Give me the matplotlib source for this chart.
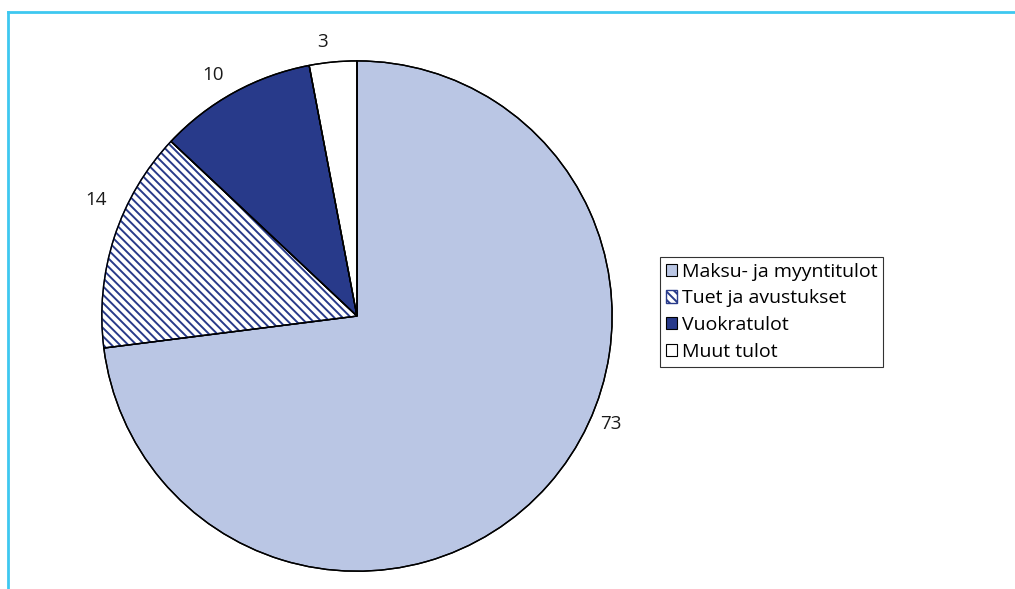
import matplotlib.pyplot as plt
import numpy as np

plt.rcParams['font.family'] = ['Open Sans', 'DejaVu Sans']
plt.rcParams['hatch.linewidth'] = 1.4

categories = ['Maksu- ja myyntitulot', 'Tuet ja avustukset', 'Vuokratulot', 'Muut tulot']
values = [73, 14, 10, 3]
colors = ['#BAC6E4', '#FFFFFF', '#283A8A', '#FFFFFF']
hatches = [None, '\\\\\\\\', None, None]
dark = '#283A8A'

fig = plt.figure(figsize=(10.15, 5.89), dpi=100)

# frame lines like in the original report page
fig.add_artist(plt.Line2D([0.008, 0.008], [0, 0.98], color='#3EC8F0', lw=2))
fig.add_artist(plt.Line2D([0.008, 1.0], [0.98, 0.98], color='#3EC8F0', lw=2))

ax = fig.add_axes([0.0995, 0.0289, 0.5044, 0.869])
wedges, texts = ax.pie(values, colors=colors, startangle=90, counterclock=False,
                       labels=[str(v) for v in values], labeldistance=1.08,
                       wedgeprops=dict(edgecolor='black', linewidth=1),
                       textprops=dict(fontsize=13.5, color='#1a1a1a'))
for w, h in zip(wedges, hatches):
    if h:
        w.set_hatch(h)
        w.set_edgecolor(dark)
# black outlines on top
ax.pie(values, startangle=90, counterclock=False,
       wedgeprops=dict(fill=False, edgecolor='black', linewidth=1))
ax.set_xlim(-1.003, 1.003)
ax.set_ylim(-1.003, 1.003)

# label spots nudged to where the original puts them
label_angles = [-23, 155, 119, 96]
for t, a in zip(texts, label_angles):
    r = np.deg2rad(a)
    t.set_position((1.08 * np.cos(r), 1.08 * np.sin(r)))
texts[0].set_ha('center')

handles = []
for c, h in zip(colors, hatches):
    p = plt.Rectangle((0, 0), 1, 1, facecolor=c, edgecolor=dark if h else 'black',
                      hatch=h, linewidth=1 if h else 0.8)
    handles.append(p)
leg = fig.legend(handles, categories, loc='upper left', bbox_to_anchor=(0.650, 0.564),
                 fontsize=14, frameon=True, fancybox=False, edgecolor='black',
                 handlelength=0.58, handleheight=0.58, handletextpad=0.25,
                 labelspacing=0.45, borderpad=0.3, borderaxespad=0)
leg.get_frame().set_linewidth(0.8)

fig.savefig('out.png', dpi=100)
